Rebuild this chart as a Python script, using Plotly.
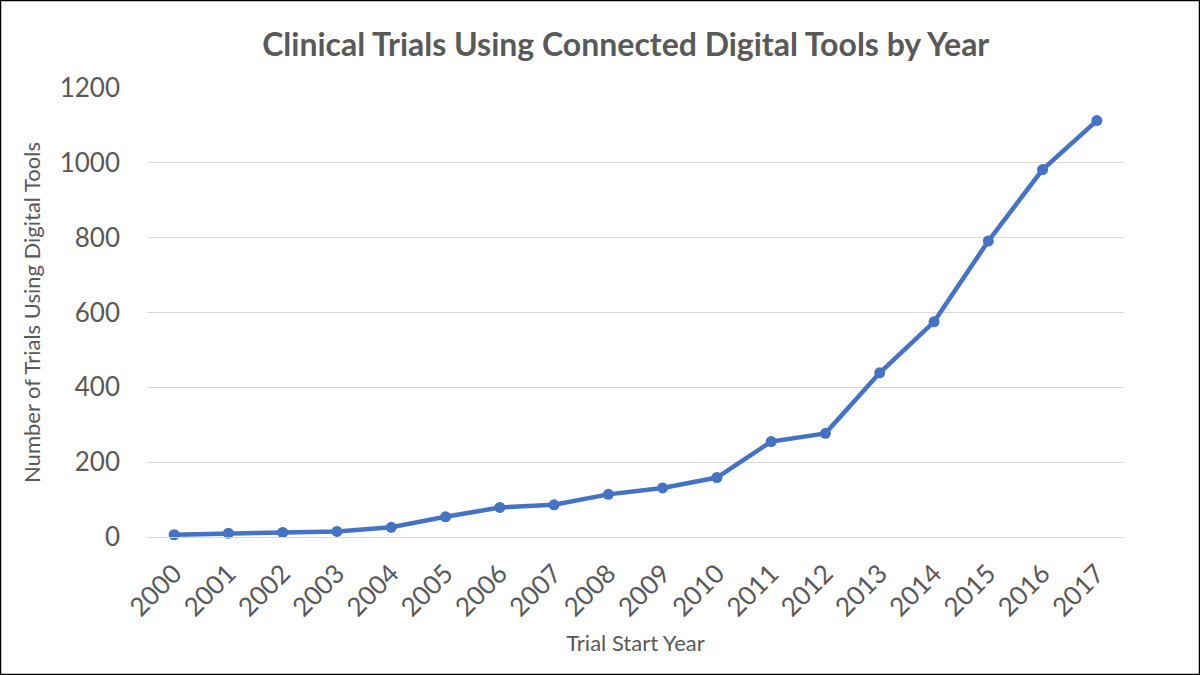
import plotly.graph_objects as go

years = [str(y) for y in range(2000, 2018)]
trials = [6, 10, 12, 15, 26, 54, 79, 86, 114, 131, 159, 255, 277, 439, 575, 791, 982, 1113]

y_ticks = [0, 200, 400, 600, 800, 1000, 1200]

W, H = 1200, 675
L, R, T, B = 147, 76, 88, 138
pw, ph = W - L - R, H - T - B

grey = "#595959"
font = "Lato, Open Sans, sans-serif"

fig = go.Figure()
fig.add_trace(go.Scatter(
    x=years, y=trials,
    mode="lines+markers",
    line=dict(color="#4472C4", width=4.5),
    marker=dict(color="#4472C4", size=11),
    showlegend=False,
    cliponaxis=False,
))

fig.update_layout(
    width=W, height=H,
    margin=dict(l=L, r=R, t=T, b=B),
    paper_bgcolor="white",
    plot_bgcolor="white",
    font=dict(family=font, color=grey),
    title=dict(
        text="<b>Clinical Trials Using Connected Digital Tools by Year</b>",
        x=0.49, xref="paper", y=1 - 45 / H, yref="container",
        xanchor="center", yanchor="middle",
        font=dict(size=32, color=grey, family=font),
    ),
    xaxis=dict(
        type="category",
        range=[-0.5, len(years) - 0.5],
        tickangle=-45,
        tickfont=dict(size=26, color=grey),
        ticklabelstandoff=10,
        showgrid=False,
        showline=True, linecolor="#D9D9D9", linewidth=1,
        ticks="",
        title=dict(text="Trial Start Year", font=dict(size=22, color=grey), standoff=14),
    ),
    yaxis=dict(
        range=[0, 1200],
        tickvals=y_ticks,
        tickfont=dict(size=26, color=grey),
        gridcolor="#D9D9D9", gridwidth=1,
        zeroline=False,
        showline=False,
        ticks="",
        ticklabelstandoff=26,
        title=dict(text="Number of Trials Using Digital Tools", font=dict(size=22, color=grey), standoff=12),
    ),
    shapes=[dict(
        type="rect", xref="paper", yref="paper",
        x0=-L / pw + 0.0005, x1=1 + R / pw - 0.0005,
        y0=-B / ph + 0.001, y1=1 + T / ph - 0.001,
        line=dict(color="black", width=1.5),
        fillcolor="rgba(0,0,0,0)",
        layer="above",
    )],
)

fig.write_html("out.html", config={"displayModeBar": False},
               post_script="document.body.style.margin='0';")
